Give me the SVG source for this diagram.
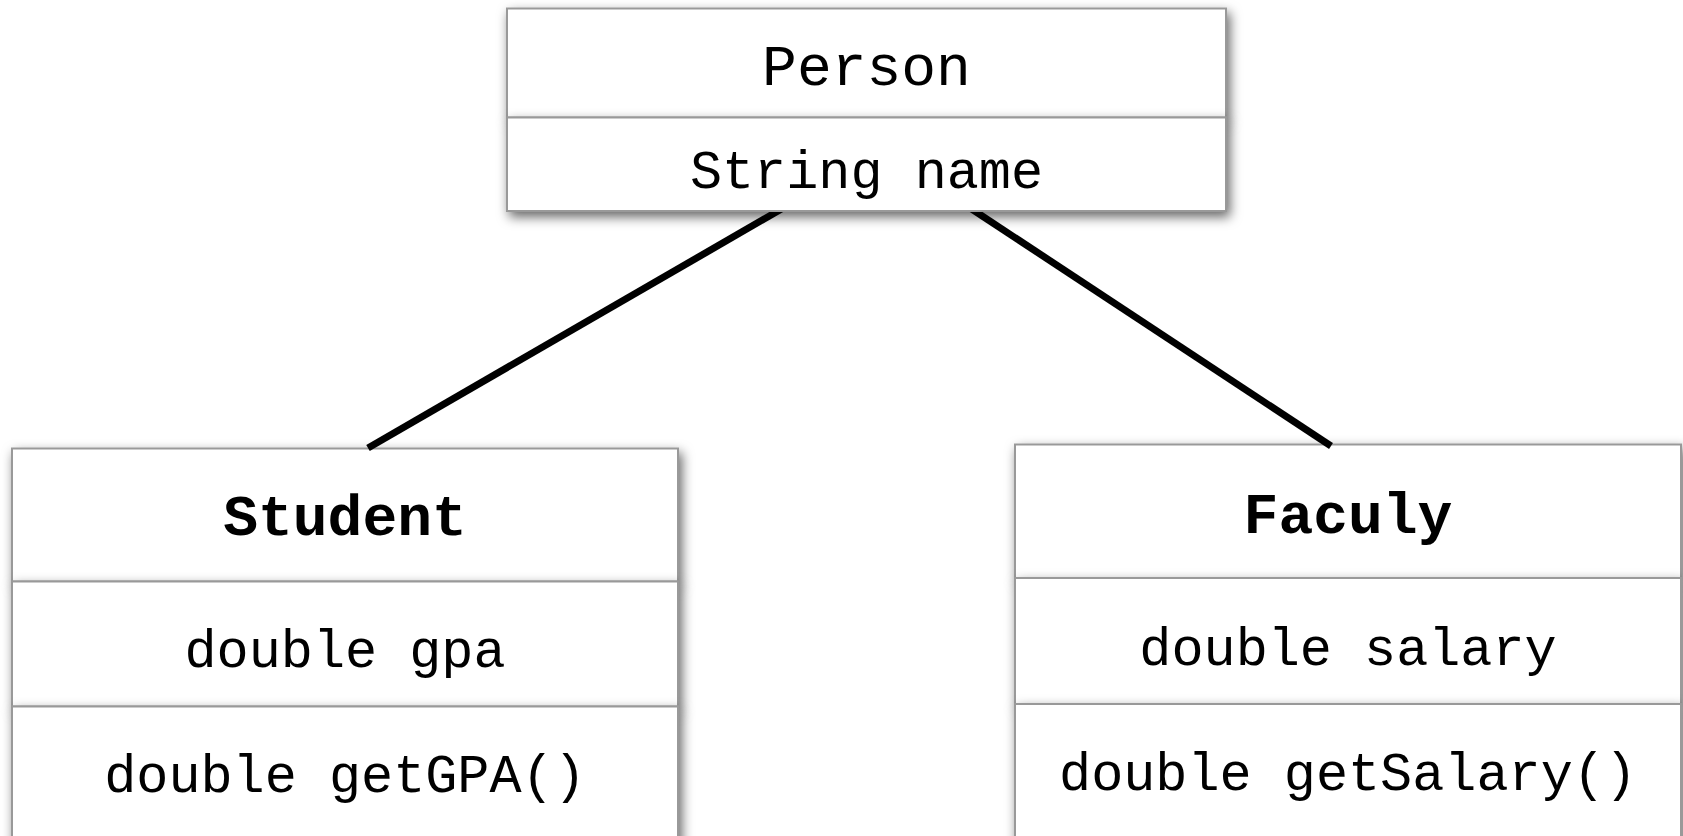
<svg xmlns="http://www.w3.org/2000/svg" width="1683" height="836" viewBox="0 0 1683 836">
<defs>
<filter id="sh" x="-10%" y="-30%" width="120%" height="160%">
<feDropShadow dx="3" dy="5" stdDeviation="6" flood-color="#000" flood-opacity="0.6"/>
</filter>
<style>
.box{fill:#fff;stroke:#999;stroke-width:2;filter:url(#sh);}
.t{font-family:"Liberation Mono","DejaVu Sans Mono",monospace;fill:#000;text-anchor:middle;}
.title{font-size:58px;}
.b{font-weight:bold;}
.attr{font-size:53.5px;}
.conn{stroke:#000;stroke-width:7;fill:none;}
</style>
</defs>
<rect width="1683" height="836" fill="#fff"/>
<g id="Student">
<rect class="box" x="12" y="448.5" width="666" height="133"/>
<rect class="box" x="12" y="581.5" width="666" height="125"/>
<rect class="box" x="12" y="706.5" width="666" height="150"/>
<text class="t title b" x="345" y="535">Student</text>
<text class="t attr" x="345" y="667">double gpa</text>
<text class="t attr" x="345" y="792">double getGPA()</text>
</g>
<g id="Faculy">
<rect class="box" x="1015" y="444.5" width="666" height="133.5"/>
<rect class="box" x="1015" y="578" width="666" height="126"/>
<rect class="box" x="1015" y="704" width="666" height="150"/>
<text class="t title b" x="1348" y="533">Faculy</text>
<text class="t attr" x="1348" y="665">double salary</text>
<text class="t attr" x="1348" y="790">double getSalary()</text>
</g>
<g id="connectors">
<line class="conn" x1="797" y1="200" x2="368" y2="448"/>
<line class="conn" x1="958" y1="200" x2="1331" y2="446"/>
</g>
<g id="Person">
<rect class="box" x="507" y="8.5" width="719" height="109"/>
<rect class="box" x="507" y="117.5" width="719" height="93.5"/>
<text class="t title" x="866.5" y="85">Person</text>
<text class="t attr" x="866.5" y="188">String name</text>
</g>
</svg>
